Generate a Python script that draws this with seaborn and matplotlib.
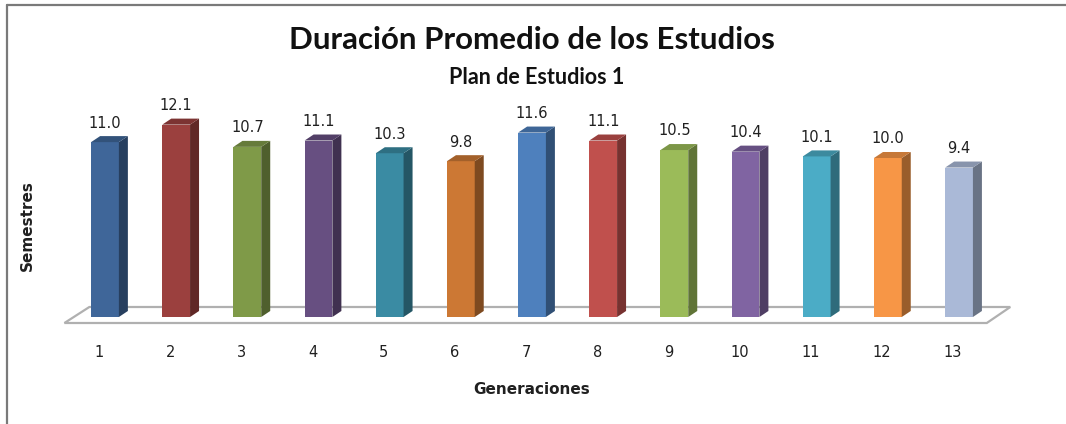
import numpy as np
import matplotlib
matplotlib.use("Agg")
import matplotlib.pyplot as plt
import matplotlib.colors as mcolors
from matplotlib.patches import Polygon
from matplotlib.lines import Line2D
from matplotlib.transforms import ScaledTranslation
import seaborn as sns

# data
generaciones = [str(i) for i in range(1, 14)]
duracion = [11.0, 12.1, 10.7, 11.1, 10.3, 9.8, 11.6, 11.1, 10.5, 10.4, 10.1, 10.0, 9.4]
colores = ["#3F6699", "#9B403E", "#7F9A48", "#674F81", "#3A8BA3", "#CC7834",
           "#4E80BD", "#C0504D", "#9BBB59", "#8064A2", "#4BACC6", "#F79646", "#AAB9D7"]

titulo = "Duración Promedio de los Estudios"
subtitulo = "Plan de Estudios 1"

sns.set_style("white")
plt.rcParams["font.family"] = ["DejaVu Sans"]

W, H = 1066, 424
fig = plt.figure(figsize=(W / 100, H / 100), dpi=100)

# axes placed in pixels: zero line at y=317, bar 1 centre at x=105, pitch ~71 px
xlim = (-0.6, 12.6)
ylim = (0, 14)
px_x = 71.17
px_y = 15.9
left = 105 - (0 - xlim[0]) * px_x
width = (xlim[1] - xlim[0]) * px_x
bottom = H - 317
height = (ylim[1] - ylim[0]) * px_y
ax = fig.add_axes([left / W, bottom / H, width / W, height / H])

sns.barplot(x=generaciones, y=duracion, hue=generaciones, palette=colores,
            legend=False, width=0.39, saturation=1, linewidth=0, ax=ax, zorder=3)
ax.set_xlim(*xlim)
ax.set_ylim(*ylim)

# 3d depth offset in data units
dx = 9 / px_x
dy = 6 / px_y

# floor
n = len(generaciones)
fl = Polygon([(xlim[0] + 0.03, -6 / px_y), (n - 1 + 0.56 - 0.17, -6 / px_y),
              (n - 1 + 0.56 + 0.16, 10 / px_y), (xlim[0] + 0.38, 10 / px_y)],
             closed=True, facecolor="white", edgecolor="#B0B0B0", lw=1.6,
             clip_on=False, zorder=1)
ax.add_patch(fl)

for p, v, c in zip(ax.patches[:n], duracion, colores):
    x0 = p.get_x()
    w = p.get_width()
    h = p.get_height()
    rgb = np.array(mcolors.to_rgb(c))
    side = Polygon([(x0 + w, 0), (x0 + w + dx, dy), (x0 + w + dx, h + dy), (x0 + w, h)],
                   closed=True, facecolor=rgb * 0.62, edgecolor="none", zorder=3,
                   clip_on=False)
    top = Polygon([(x0, h), (x0 + dx, h + dy), (x0 + w + dx, h + dy), (x0 + w, h)],
                  closed=True, facecolor=rgb * 0.8, edgecolor="none", zorder=3,
                  clip_on=False)
    ax.add_patch(side)
    ax.add_patch(top)
    ax.annotate(f"{v:.1f}", xy=(x0 + w / 2, h + dy), xytext=(0, 4),
                textcoords="offset points", ha="center", va="bottom",
                fontsize=10.5, color="#202020")

for s in ax.spines.values():
    s.set_visible(False)
ax.set_yticks([])
ax.set_xticks(range(n))
ax.set_xticklabels(generaciones, fontsize=10.5, color="#202020")
ax.tick_params(axis="x", length=0, pad=20)
for lab in ax.get_xticklabels():
    lab.set_transform(lab.get_transform() + ScaledTranslation(-0.06, 0, fig.dpi_scale_trans))

ax.set_xlabel("Generaciones", fontsize=11, fontweight="bold", color="#202020", va="center")
ax.xaxis.set_label_coords(0.5, (317 - 389) / height)
ax.set_ylabel("Semestres", fontsize=11, fontweight="bold", color="#202020")
ax.yaxis.set_label_coords((35 - left) / width, (317 - 226) / height)

fig.text(532 / W, 1 - 40 / H, titulo, ha="center", va="center", fontsize=22.5,
         fontweight="bold", family=["Lato", "DejaVu Sans"], color="#111111")
fig.text(537 / W, 1 - 77 / H, subtitulo, ha="center", va="center", fontsize=15.5,
         fontweight="bold", family=["Lato", "DejaVu Sans"], color="#111111")

# chart border (left and top edges visible)
fig.add_artist(Line2D([7 / W, 7 / W], [0, 1 - 5 / H], color="#7A7A7A", lw=1.6))
fig.add_artist(Line2D([7 / W, 1], [1 - 5 / H, 1 - 5 / H], color="#7A7A7A", lw=1.6))

fig.savefig("out.png", dpi=100)
